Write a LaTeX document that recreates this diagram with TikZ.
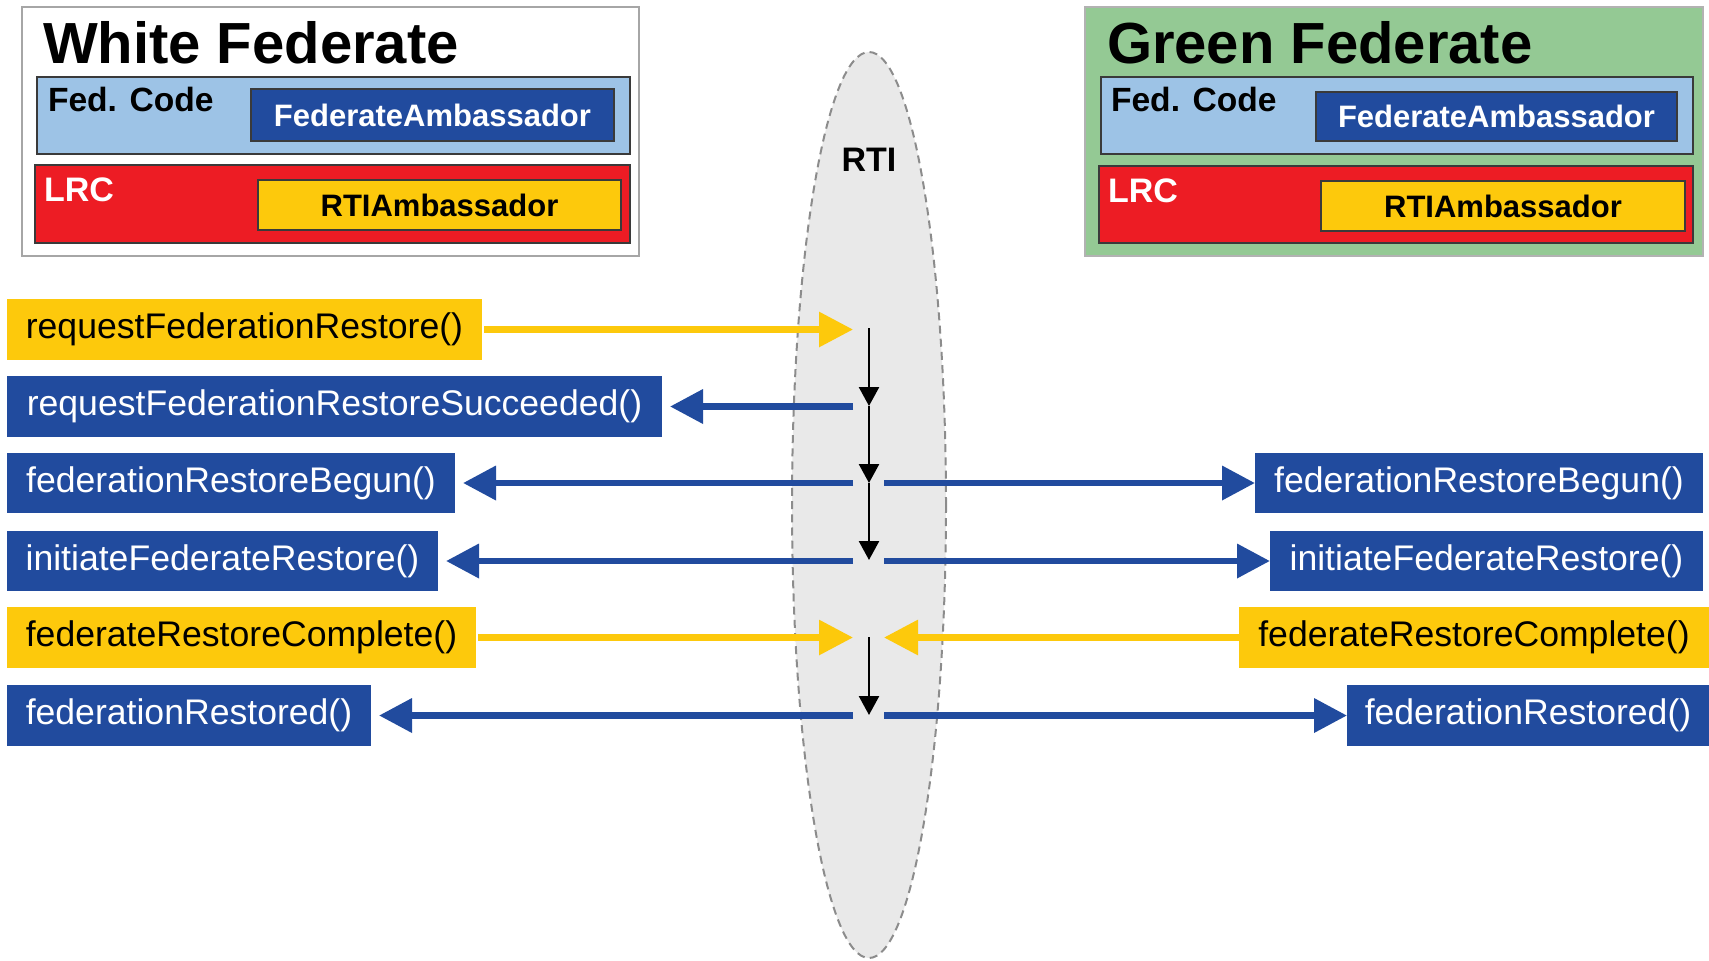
\documentclass[tikz,border=0pt]{standalone}
\usepackage{fontspec}
\setmainfont{Liberation Sans}
\usetikzlibrary{arrows.meta,fit,shapes.geometric}
\definecolor{fedyellow}{HTML}{FDC90C}
\definecolor{fedblue}{HTML}{214B9E}
\definecolor{codeblue}{HTML}{9DC3E6}
\definecolor{lrcred}{HTML}{ED1C24}
\definecolor{fedgreen}{HTML}{94C994}
\definecolor{rtigray}{HTML}{E9E9E9}
\definecolor{dashgray}{HTML}{8C8C8C}
\definecolor{edgedark}{HTML}{3A3A3A}
\begin{document}
\begin{tikzpicture}[x=0.5pt,y=-0.5pt,
  box/.style={inner sep=0pt, outer sep=0pt},
  callfont/.style={font=\fontsize{17.8}{20}\selectfont},
  callY/.style={box, callfont, fill=fedyellow, text=black, minimum height=30.5pt},
  callB/.style={box, callfont, fill=fedblue, text=white, minimum height=30.5pt},
  outerW/.style={box, fill=white, draw=gray!70, line width=1pt},
  outerG/.style={box, fill=fedgreen, draw=gray!60, line width=1pt},
  codebox/.style={box, fill=codeblue, draw=edgedark, line width=0.7pt},
  lrcbox/.style={box, fill=lrcred, draw=edgedark, line width=0.7pt},
  fambox/.style={box, fill=fedblue, draw=edgedark, line width=0.7pt, text=white, font=\bfseries\fontsize{15.5}{18}\selectfont},
  rambox/.style={box, fill=fedyellow, draw=edgedark, line width=0.7pt, text=black, font=\bfseries\fontsize{15.5}{18}\selectfont},
  title/.style={box, anchor=base west, font=\bfseries\fontsize{29}{32}\selectfont},
  sublabel/.style={box, anchor=base west, font=\bfseries\fontsize{16.8}{19}\selectfont},
  yarr/.style={draw=fedyellow, line width=3.1pt, -{Triangle[length=17pt,width=17pt,fill=fedyellow]}},
  barr/.style={draw=fedblue, line width=3.4pt, -{Triangle[length=16.5pt,width=16.5pt,fill=fedblue]}},
  karr/.style={draw=black, line width=1.25pt, -{Triangle[length=9.5pt,width=10pt]}}
]
\useasboundingbox (0,0) rectangle (1709,960);

% RTI area
\node[ellipse, fill=rtigray, draw=dashgray, line width=1pt, dash pattern=on 4pt off 2.6pt,
      minimum width=77pt, minimum height=453pt, inner sep=0pt] (rtiarea) at (869,505) {};
\node[box, font=\bfseries\fontsize{17}{20}\selectfont] (rtilabel) at (869,160) {RTI};

% White federate
\node[outerW, fit={(22,7) (639,256)}] (wfed) {};
\node[title] (wtitle) at (43,63) {White Federate};
\node[codebox, fit={(37,77) (630,154)}] (wcode) {};
\node[sublabel] (wcodelbl) at (48,111) {Fed. Code};
\node[fambox, minimum width=181.5pt, minimum height=26pt] (wfam) at (432.5,115) {FederateAmbassador};
\node[lrcbox, fit={(35,165) (630,243)}] (wlrc) {};
\node[sublabel, text=white, font=\bfseries\fontsize{17}{20}\selectfont] (wlrclbl) at (44,201) {LRC};
\node[rambox, minimum width=181.5pt, minimum height=25pt] (wram) at (439.5,205) {RTIAmbassador};

% Green federate
\node[outerG, fit={(1085,7) (1703,256)}] (gfed) {};
\node[title] (gtitle) at (1107,63) {Green Federate};
\node[codebox, fit={(1101,77) (1693,154)}] (gcode) {};
\node[sublabel] (gcodelbl) at (1111,111) {Fed. Code};
\node[fambox, minimum width=180.5pt, minimum height=24.5pt] (gfam) at (1496.5,116.5) {FederateAmbassador};
\node[lrcbox, fit={(1099,166) (1693,243)}] (glrc) {};
\node[sublabel, text=white, font=\bfseries\fontsize{17}{20}\selectfont] (glrclbl) at (1108,202) {LRC};
\node[rambox, minimum width=182pt, minimum height=25pt] (gram) at (1503,206) {RTIAmbassador};

% Left calls
\node[callY, minimum width=237.5pt] (l1) at (244.5,329.5) {requestFederationRestore()};
\node[callB, minimum width=327.5pt] (l2) at (334.5,406.5) {requestFederationRestoreSucceeded()};
\node[callB, minimum width=224pt, minimum height=30pt] (l3) at (231,483) {federationRestoreBegun()};
\node[callB, minimum width=215.5pt, minimum height=30pt] (l4) at (222.5,561) {initiateFederateRestore()};
\node[callY, minimum width=234.5pt] (l5) at (241.5,637.5) {federateRestoreComplete()};
\node[callB, minimum width=182pt] (l6) at (189,715.5) {federationRestored()};

% Right calls
\node[callB, minimum width=224pt, minimum height=30pt] (r3) at (1479,483) {federationRestoreBegun()};
\node[callB, minimum width=216.5pt, minimum height=30pt] (r4) at (1486.5,561) {initiateFederateRestore()};
\node[callY, minimum width=235pt] (r5) at (1474,637.5) {federateRestoreComplete()};
\node[callB, minimum width=181pt] (r6) at (1528,715.5) {federationRestored()};

% RTI axis points
\coordinate (a1) at (853,329.5);
\coordinate (a2) at (853,406.5);
\coordinate (a3) at (853,483);
\coordinate (a4) at (853,561);
\coordinate (a5) at (853,637.5);
\coordinate (a6) at (853,715.5);
\coordinate (b3) at (884,483);
\coordinate (b4) at (884,561);
\coordinate (b5) at (884,637.5);
\coordinate (b6) at (884,715.5);
\coordinate (k0) at (869,328);
\coordinate (k1) at (869,406);
\coordinate (k2) at (869,483);
\coordinate (k3) at (869,560);
\coordinate (k4) at (869,637);
\coordinate (k5) at (869,715);

% Connectors
\draw[yarr, shorten <=1pt] (l1.east) -- (a1);
\draw[barr, shorten >=4pt] (a2) -- (l2.east);
\draw[barr, shorten >=4pt] (a3) -- (l3.east);
\draw[barr, shorten >=4pt] (a4) -- (l4.east);
\draw[yarr, shorten <=1pt] (l5.east) -- (a5);
\draw[barr, shorten >=4pt] (a6) -- (l6.east);
\draw[barr] (b3) -- (r3.west);
\draw[barr] (b4) -- (r4.west);
\draw[yarr] (r5.west) -- (b5);
\draw[barr] (b6) -- (r6.west);

\draw[karr] (k0) -- (k1);
\draw[karr] (k1) -- (k2);
\draw[karr] (k2) -- (k3);
\draw[karr] (k4) -- (k5);
\end{tikzpicture}
\end{document}
